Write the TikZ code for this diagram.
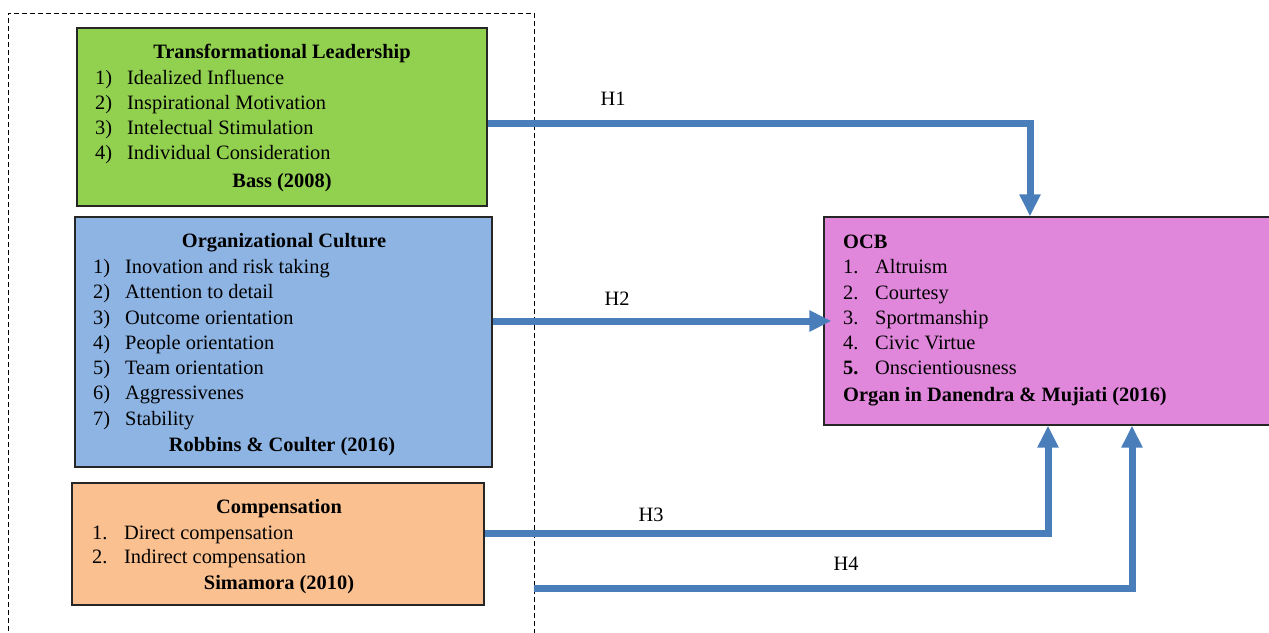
\documentclass[tikz,border=0pt]{standalone}
\usepackage{fontspec}
\setmainfont{Liberation Serif}
\usetikzlibrary{arrows.meta}
\definecolor{tlgreen}{HTML}{92D050}
\definecolor{ocblue}{HTML}{8EB4E3}
\definecolor{comporange}{HTML}{FAC090}
\definecolor{ocbpink}{HTML}{E087DC}
\definecolor{arrblue}{HTML}{4A7EBB}
\definecolor{edgegray}{HTML}{262626}
\newcommand{\itm}[2]{\makebox[32pt][l]{#1}#2}
\tikzset{
  box/.style={draw=edgegray, line width=1.3pt, inner sep=0pt},
  txt/.style={anchor=mid west, inner sep=0pt, font=\fontsize{20.4}{24}\selectfont},
  ttl/.style={anchor=mid, inner sep=0pt, font=\fontsize{20.4}{24}\selectfont\bfseries},
  hlab/.style={anchor=mid, inner sep=0pt, font=\fontsize{20.4}{24}\selectfont},
  arr/.style={draw=arrblue, line width=7pt, miter limit=10, -{Triangle[width=20pt,length=22pt]}},
  frame/.style={draw=black, line width=1pt, dash pattern=on 5pt off 3pt}
}
\begin{document}
\begin{tikzpicture}[x=1pt,y=-1pt]
\useasboundingbox (0,0) rectangle (1269,632);
% dashed frame
\node[frame, minimum width=526pt, minimum height=647pt, inner sep=0pt] (frm) at (271,336.5) {};
% boxes
\node[box, fill=tlgreen, minimum width=410pt, minimum height=178pt] (tl) at (282,117) {};
\node[box, fill=ocblue, minimum width=417pt, minimum height=250pt] (oc) at (283.5,342) {};
\node[box, fill=comporange, minimum width=412pt, minimum height=122pt] (cp) at (278,544) {};
\node[box, fill=ocbpink, minimum width=466pt, minimum height=208pt] (ocb) at (1057,321) {};
\begin{scope}[yshift=-5pt]
% green text
\node[ttl] (tlt) at (282,51) {Transformational Leadership};
\node[txt] (tl1) at (95,77) {\itm{1)}{Idealized Influence}};
\node[txt] (tl2) at (95,102) {\itm{2)}{Inspirational Motivation}};
\node[txt] (tl3) at (95,127) {\itm{3)}{Intelectual Stimulation}};
\node[txt] (tl4) at (95,152) {\itm{4)}{Individual Consideration}};
\node[ttl] (tlr) at (282,180) {Bass (2008)};
% blue text
\node[ttl] (oct) at (284,240) {Organizational Culture};
\node[txt] (oc1) at (93,266) {\itm{1)}{Inovation and risk taking}};
\node[txt] (oc2) at (93,291) {\itm{2)}{Attention to detail}};
\node[txt] (oc3) at (93,317) {\itm{3)}{Outcome orientation}};
\node[txt] (oc4) at (93,342) {\itm{4)}{People orientation}};
\node[txt] (oc5) at (93,367) {\itm{5)}{Team orientation}};
\node[txt] (oc6) at (93,392) {\itm{6)}{Aggressivenes}};
\node[txt] (oc7) at (93,418) {\itm{7)}{Stability}};
\node[ttl] (ocr) at (282,444) {Robbins \& Coulter (2016)};
% orange text
\node[ttl] (cpt) at (279,506) {Compensation};
\node[txt] (cp1) at (92,532) {\itm{1.}{Direct compensation}};
\node[txt] (cp2) at (92,556) {\itm{2.}{Indirect compensation}};
\node[ttl] (cpr) at (279,582) {Simamora (2010)};
% OCB text
\node[txt, font=\fontsize{20.4}{24}\selectfont\bfseries] (ocbt) at (843,241) {OCB};
\node[txt] (ocb1) at (843,266) {\itm{1.}{Altruism}};
\node[txt] (ocb2) at (843,292) {\itm{2.}{Courtesy}};
\node[txt] (ocb3) at (843,317) {\itm{3.}{Sportmanship}};
\node[txt] (ocb4) at (843,342) {\itm{4.}{Civic Virtue}};
\node[txt] (ocb5) at (843,367) {\itm{\textbf{5.}}{Onscientiousness}};
\node[txt, font=\fontsize{20.4}{24}\selectfont\bfseries] (ocbr) at (843,394) {Organ in Danendra \& Mujiati (2016)};
% labels
\node[hlab] (lh1) at (613,98) {H1};
\node[hlab] (lh2) at (617,298) {H2};
\node[hlab] (lh3) at (651,514) {H3};
\node[hlab] (lh4) at (846,563) {H4};
\end{scope}
% connectors
\coordinate (h4s) at (534,588);
\draw[arr] ([yshift=-6pt]tl.east) -| ([xshift=-27pt]ocb.north);
\draw[arr, shorten >=-8pt] ([yshift=21pt]oc.east) -- (ocb.west);
\draw[arr] ([yshift=11pt]cp.east) -| ([xshift=-9pt]ocb.south);
\draw[arr] (h4s) -| ([xshift=75pt]ocb.south);
\end{tikzpicture}
\end{document}
